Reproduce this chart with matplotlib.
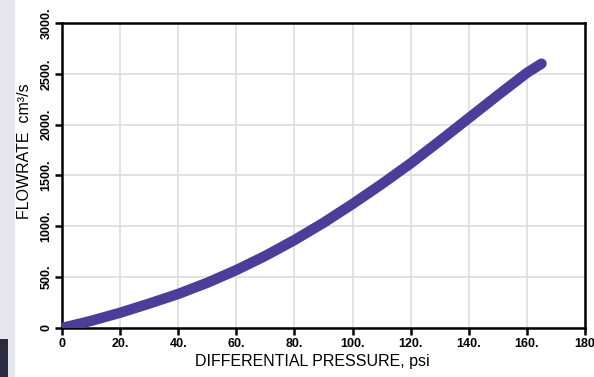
import matplotlib.pyplot as plt
from matplotlib.patches import Rectangle

plt.rcParams['font.family'] = ['Liberation Sans', 'DejaVu Sans']

# data
pressure = [0, 10, 20, 30, 40, 50, 60, 70, 80, 90, 100, 110, 120, 130, 140, 150, 160, 165]
flowrate = [0, 70, 150, 240, 335, 445, 570, 710, 865, 1035, 1220, 1415, 1620, 1840, 2065, 2290, 2510, 2600]

xticks = [0, 20, 40, 60, 80, 100, 120, 140, 160, 180]
xtick_labels = ['0', '20.', '40.', '60.', '80.', '100.', '120.', '140.', '160.', '180']
yticks = [0, 500, 1000, 1500, 2000, 2500, 3000]
ytick_labels = ['0', '500.', '1000.', '1500.', '2000.', '2500.', '3000.']

fig = plt.figure(figsize=(5.94, 3.77), dpi=100)
fig.patch.set_facecolor('white')

# left-edge decoration
fig.patches.append(Rectangle((0, 0), 0.025, 1, transform=fig.transFigure,
                             facecolor='#E6E6EC', edgecolor='none', zorder=0))
fig.patches.append(Rectangle((0, 0), 0.014, 0.1, transform=fig.transFigure,
                             facecolor='#2A2A40', edgecolor='none', zorder=0))

ax = fig.add_axes([0.1044, 0.130, 0.8806, 0.809])
ax.plot(pressure, flowrate, color='#4A3E98', lw=7.5, solid_capstyle='round',
        solid_joinstyle='round', zorder=3)

ax.set_xlim(0, 180)
ax.set_ylim(0, 3000)
ax.set_xticks(xticks)
ax.set_xticklabels(xtick_labels, fontsize=9, fontweight='bold')
ax.set_yticks(yticks)
ax.set_yticklabels(ytick_labels, fontsize=9, fontweight='bold', rotation=90, va='center')

ax.grid(True, color='#DDDDDD', lw=1.2)
ax.set_axisbelow(True)
for s in ax.spines.values():
    s.set_linewidth(1.8)
    s.set_color('black')
ax.tick_params(direction='out', length=5, width=1.8, pad=2, color='black')

ax.set_xlabel('DIFFERENTIAL PRESSURE, psi', fontsize=11.5, labelpad=1)
ax.xaxis.set_label_coords(0.478, -0.085)
ax.set_ylabel('FLOWRATE  cm³/s', fontsize=11.5)
ax.yaxis.set_label_coords(-0.058, 0.58)

fig.savefig('out.png', dpi=100, facecolor='white')
